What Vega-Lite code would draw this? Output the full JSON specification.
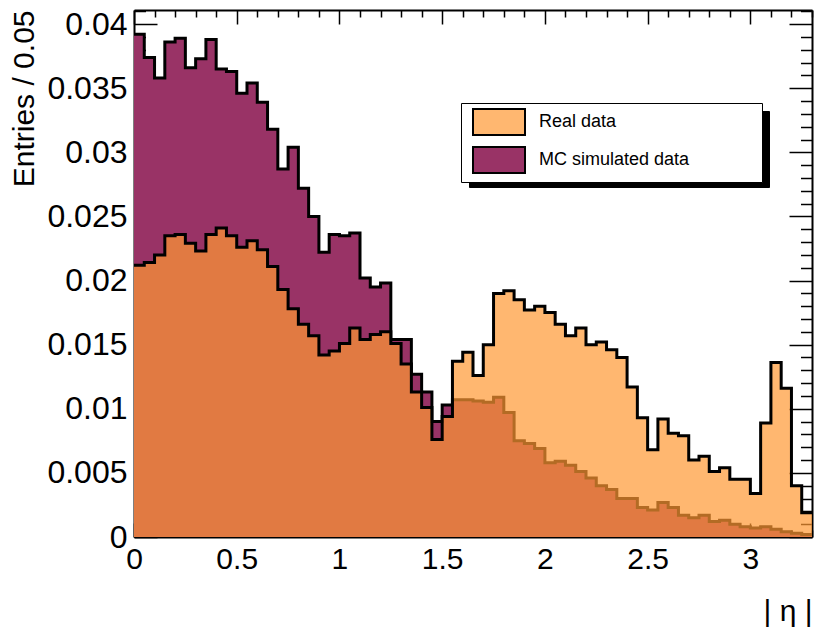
{
  "$schema": "https://vega.github.io/schema/vega-lite/v6.json",
  "width": 678,
  "height": 527,
  "autosize": "none",
  "padding": {"left": 134, "top": 10, "right": 2, "bottom": 93},
  "background": "white",
  "config": {
    "view": {"stroke": null},
    "font": "Liberation Sans",
    "axis": {
      "grid": false,
      "domainColor": "black",
      "domainWidth": 2,
      "tickColor": "black",
      "tickWidth": 1.5,
      "zindex": 2,
      "labelOverlap": false,
      "labelFlush": false,
      "labelColor": "black",
      "titleColor": "black",
      "titleFontWeight": "normal"
    }
  },
  "data": {
    "values": [
      {"lo": 0.00, "hi": 0.05, "mc": 0.0392, "real": 0.0212},
      {"lo": 0.05, "hi": 0.10, "mc": 0.0374, "real": 0.0214},
      {"lo": 0.10, "hi": 0.15, "mc": 0.0358, "real": 0.0220},
      {"lo": 0.15, "hi": 0.20, "mc": 0.0386, "real": 0.0235},
      {"lo": 0.20, "hi": 0.25, "mc": 0.0389, "real": 0.0236},
      {"lo": 0.25, "hi": 0.30, "mc": 0.0366, "real": 0.0229},
      {"lo": 0.30, "hi": 0.35, "mc": 0.0373, "real": 0.0223},
      {"lo": 0.35, "hi": 0.40, "mc": 0.0388, "real": 0.0236},
      {"lo": 0.40, "hi": 0.45, "mc": 0.0365, "real": 0.0241},
      {"lo": 0.45, "hi": 0.50, "mc": 0.0363, "real": 0.0235},
      {"lo": 0.50, "hi": 0.55, "mc": 0.0346, "real": 0.0226},
      {"lo": 0.55, "hi": 0.60, "mc": 0.0354, "real": 0.0231},
      {"lo": 0.60, "hi": 0.65, "mc": 0.0339, "real": 0.0224},
      {"lo": 0.65, "hi": 0.70, "mc": 0.0318, "real": 0.0211},
      {"lo": 0.70, "hi": 0.75, "mc": 0.0287, "real": 0.0193},
      {"lo": 0.75, "hi": 0.80, "mc": 0.0304, "real": 0.0178},
      {"lo": 0.80, "hi": 0.85, "mc": 0.0272, "real": 0.0166},
      {"lo": 0.85, "hi": 0.90, "mc": 0.0250, "real": 0.0157},
      {"lo": 0.90, "hi": 0.95, "mc": 0.0222, "real": 0.0142},
      {"lo": 0.95, "hi": 1.00, "mc": 0.0236, "real": 0.0145},
      {"lo": 1.00, "hi": 1.05, "mc": 0.0235, "real": 0.0151},
      {"lo": 1.05, "hi": 1.10, "mc": 0.0237, "real": 0.0163},
      {"lo": 1.10, "hi": 1.15, "mc": 0.0202, "real": 0.0154},
      {"lo": 1.15, "hi": 1.20, "mc": 0.0195, "real": 0.0158},
      {"lo": 1.20, "hi": 1.25, "mc": 0.0198, "real": 0.0160},
      {"lo": 1.25, "hi": 1.30, "mc": 0.0154, "real": 0.0151},
      {"lo": 1.30, "hi": 1.35, "mc": 0.0154, "real": 0.0135},
      {"lo": 1.35, "hi": 1.40, "mc": 0.0127, "real": 0.0113},
      {"lo": 1.40, "hi": 1.45, "mc": 0.0113, "real": 0.0101},
      {"lo": 1.45, "hi": 1.50, "mc": 0.0090, "real": 0.0076},
      {"lo": 1.50, "hi": 1.55, "mc": 0.0103, "real": 0.0094},
      {"lo": 1.55, "hi": 1.60, "mc": 0.0107, "real": 0.0137},
      {"lo": 1.60, "hi": 1.65, "mc": 0.0107, "real": 0.0144},
      {"lo": 1.65, "hi": 1.70, "mc": 0.0106, "real": 0.0126},
      {"lo": 1.70, "hi": 1.75, "mc": 0.0105, "real": 0.0150},
      {"lo": 1.75, "hi": 1.80, "mc": 0.0109, "real": 0.0190},
      {"lo": 1.80, "hi": 1.85, "mc": 0.0097, "real": 0.0192},
      {"lo": 1.85, "hi": 1.90, "mc": 0.0075, "real": 0.0185},
      {"lo": 1.90, "hi": 1.95, "mc": 0.0073, "real": 0.0177},
      {"lo": 1.95, "hi": 2.00, "mc": 0.0069, "real": 0.0180},
      {"lo": 2.00, "hi": 2.05, "mc": 0.0058, "real": 0.0175},
      {"lo": 2.05, "hi": 2.10, "mc": 0.0059, "real": 0.0166},
      {"lo": 2.10, "hi": 2.15, "mc": 0.0056, "real": 0.0157},
      {"lo": 2.15, "hi": 2.20, "mc": 0.0051, "real": 0.0163},
      {"lo": 2.20, "hi": 2.25, "mc": 0.0046, "real": 0.0150},
      {"lo": 2.25, "hi": 2.30, "mc": 0.0040, "real": 0.0152},
      {"lo": 2.30, "hi": 2.35, "mc": 0.0037, "real": 0.0146},
      {"lo": 2.35, "hi": 2.40, "mc": 0.0030, "real": 0.0140},
      {"lo": 2.40, "hi": 2.45, "mc": 0.0030, "real": 0.0117},
      {"lo": 2.45, "hi": 2.50, "mc": 0.0023, "real": 0.0093},
      {"lo": 2.50, "hi": 2.55, "mc": 0.0021, "real": 0.0068},
      {"lo": 2.55, "hi": 2.60, "mc": 0.0027, "real": 0.0092},
      {"lo": 2.60, "hi": 2.65, "mc": 0.0023, "real": 0.0081},
      {"lo": 2.65, "hi": 2.70, "mc": 0.0017, "real": 0.0079},
      {"lo": 2.70, "hi": 2.75, "mc": 0.0015, "real": 0.0060},
      {"lo": 2.75, "hi": 2.80, "mc": 0.0017, "real": 0.0063},
      {"lo": 2.80, "hi": 2.85, "mc": 0.0012, "real": 0.0051},
      {"lo": 2.85, "hi": 2.90, "mc": 0.0013, "real": 0.0054},
      {"lo": 2.90, "hi": 2.95, "mc": 0.0010, "real": 0.0045},
      {"lo": 2.95, "hi": 3.00, "mc": 0.0008, "real": 0.0045},
      {"lo": 3.00, "hi": 3.05, "mc": 0.0007, "real": 0.0034},
      {"lo": 3.05, "hi": 3.10, "mc": 0.0008, "real": 0.0089},
      {"lo": 3.10, "hi": 3.15, "mc": 0.0006, "real": 0.0136},
      {"lo": 3.15, "hi": 3.20, "mc": 0.0004, "real": 0.0116},
      {"lo": 3.20, "hi": 3.25, "mc": 0.0003, "real": 0.0040},
      {"lo": 3.25, "hi": 3.30, "mc": 0.0002, "real": 0.0019}
    ]
  },
  "transform": [
    {"fold": ["mc", "real"], "as": ["series", "value"]},
    {"fold": ["lo", "hi"], "as": ["edge", "eta"]}
  ],
  "resolve": {"axis": {"x": "independent", "y": "independent"}},
  "layer": [
    {
      "transform": [{"filter": "datum.series === 'mc'"}],
      "mark": {"type": "area", "interpolate": "linear", "strokeWidth": 0},
      "encoding": {
        "x": {
          "field": "eta", "type": "quantitative",
          "scale": {"domain": [0, 3.3], "nice": false, "zero": false},
          "axis": {
            "orient": "bottom",
            "values": [0,0.1,0.2,0.3,0.4,0.5,0.6,0.7,0.8,0.9,1,1.1,1.2,1.3,1.4,1.5,1.6,1.7,1.8,1.9,2,2.1,2.2,2.3,2.4,2.5,2.6,2.7,2.8,2.9,3,3.1,3.2,3.3],
            "tickSize": {"condition": {"test": "round(datum.value*10) % 5 === 0", "value": -14}, "value": -7},
            "labelExpr": "round(datum.value*10) % 5 === 0 ? format(datum.value, '~g') : ''",
            "labelFont": "Liberation Sans",
            "labelFontSize": 30,
            "labelBaseline": "top",
            "labelPadding": 21,
            "title": "| η |",
            "titleFont": "Liberation Sans",
            "titleFontSize": 30,
            "titleAlign": "right",
            "titleAnchor": "end",
            "titleBaseline": "alphabetic",
            "titleX": 678,
            "titleY": 83
          }
        },
        "y": {
          "field": "value", "type": "quantitative", "stack": null,
          "scale": {"domain": [0, 0.0411], "nice": false},
          "axis": {
            "orient": "left",
            "values": [0,0.001,0.002,0.003,0.004,0.005,0.006,0.007,0.008,0.009,0.01,0.011,0.012,0.013,0.014,0.015,0.016,0.017,0.018,0.019,0.02,0.021,0.022,0.023,0.024,0.025,0.026,0.027,0.028,0.029,0.03,0.031,0.032,0.033,0.034,0.035,0.036,0.037,0.038,0.039,0.04,0.041],
            "tickSize": {"condition": {"test": "round(datum.value*1000) % 5 === 0", "value": -23}, "value": -11.5},
            "labelExpr": "round(datum.value*1000) % 5 === 0 ? format(datum.value, '~g') : ''",
            "labelFontSize": 32,
            "labelPadding": 30,
            "title": "Entries / 0.05",
            "titleFontSize": 30,
            "titleAngle": -90,
            "titleAlign": "right",
            "titleBaseline": "alphabetic",
            "titleX": -101,
            "titleY": 0
          }
        },
        "y2": {"datum": 0},
        "fill": {
          "field": "series", "type": "nominal",
          "scale": {"domain": ["real", "mc"], "range": ["rgba(255,153,51,0.7)", "#993366"]},
          "legend": {
            "orient": "none",
            "legendX": 327,
            "legendY": 93,
            "title": null,
            "fillColor": "white",
            "strokeColor": "black",
            "padding": 5,
            "symbolType": "M-2,-1H2V1H-2ZM19.5,0",
            "symbolSize": 676,
            "symbolOffset": 19,
            "symbolStrokeColor": "black",
            "symbolStrokeWidth": 2,
            "labelFont": "Liberation Sans",
            "labelFontSize": 18,
            "labelColor": "black",
            "labelOffset": 26,
            "rowPadding": 4,
            "labelExpr": "datum.value === 'mc' ? 'MC simulated data' : 'Real data'",
            "zindex": 4,
            "encode": {
              "symbols": {"update": {"stroke": {"value": "black"}, "strokeWidth": {"value": 2}}}
            }
          }
        },
        "stroke": {
          "field": "series", "type": "nominal",
          "scale": {"domain": ["mc", "real"], "range": ["transparent", "transparent"]},
          "legend": {
            "orient": "none",
            "legendX": 335,
            "legendY": 101,
            "title": null,
            "fillColor": "black",
            "strokeColor": "black",
            "padding": 5,
            "symbolType": "M-2,-1H2V1H-2ZM19.5,0",
            "symbolSize": 676,
            "symbolOffset": 19,
            "labelFontSize": 18,
            "labelOffset": 26,
            "rowPadding": 4,
            "labelExpr": "''",
            "zindex": 3,
            "encode": {
              "symbols": {"update": {"fill": {"value": "black"}, "stroke": {"value": "black"}}}
            }
          }
        }
      }
    },
    {
      "transform": [{"filter": "datum.series === 'mc'"}],
      "mark": {"type": "line", "interpolate": "linear", "color": "black", "strokeWidth": 3, "strokeJoin": "miter"},
      "encoding": {
        "x": {
          "field": "eta", "type": "quantitative",
          "axis": {
            "orient": "top",
            "values": [0,0.1,0.2,0.3,0.4,0.5,0.6,0.7,0.8,0.9,1,1.1,1.2,1.3,1.4,1.5,1.6,1.7,1.8,1.9,2,2.1,2.2,2.3,2.4,2.5,2.6,2.7,2.8,2.9,3,3.1,3.2,3.3],
            "tickSize": {"condition": {"test": "round(datum.value*10) % 5 === 0", "value": -14}, "value": -7},
            "labels": false,
            "title": null
          }
        },
        "y": {
          "field": "value", "type": "quantitative",
          "axis": {
            "orient": "right",
            "values": [0,0.001,0.002,0.003,0.004,0.005,0.006,0.007,0.008,0.009,0.01,0.011,0.012,0.013,0.014,0.015,0.016,0.017,0.018,0.019,0.02,0.021,0.022,0.023,0.024,0.025,0.026,0.027,0.028,0.029,0.03,0.031,0.032,0.033,0.034,0.035,0.036,0.037,0.038,0.039,0.04,0.041],
            "tickSize": {"condition": {"test": "round(datum.value*1000) % 5 === 0", "value": -23}, "value": -11.5},
            "labels": false,
            "title": null
          }
        }
      }
    },
    {
      "transform": [{"filter": "datum.series === 'real'"}],
      "mark": {"type": "area", "interpolate": "linear", "strokeWidth": 0, "fill": "rgba(255,153,51,0.7)"},
      "encoding": {
        "x": {"field": "eta", "type": "quantitative", "axis": null},
        "y": {"field": "value", "type": "quantitative", "stack": null, "axis": null},
        "y2": {"datum": 0}
      }
    },
    {
      "transform": [{"filter": "datum.series === 'real'"}],
      "mark": {"type": "line", "interpolate": "linear", "color": "black", "strokeWidth": 3, "strokeJoin": "miter"},
      "encoding": {
        "x": {"field": "eta", "type": "quantitative", "axis": null},
        "y": {"field": "value", "type": "quantitative", "axis": null}
      }
    }
  ]
}
